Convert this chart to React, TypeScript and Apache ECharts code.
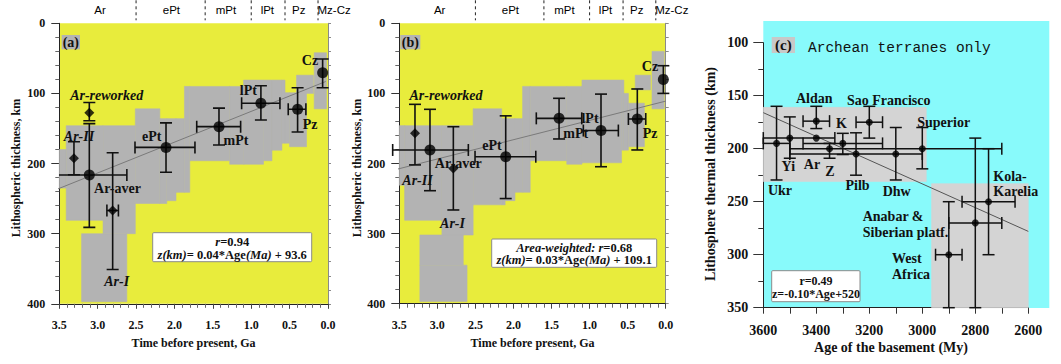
import { useEffect, useRef } from 'react';
import * as echarts from 'echarts';

const SERIF = '"Liberation Serif", "Times New Roman", serif';
const SANS = '"Liberation Sans", Arial, sans-serif';
const MONO = '"Liberation Mono", "Courier New", monospace';

// ---------- era band (panels a, b) ----------
const eraBoundaries = [2.5, 1.6, 1.0, 0.56, 0.13];
const eraNames = ['Ar', 'ePt', 'mPt', 'lPt', 'Pz', 'Mz-Cz'];
const eraLabelAge = [2.97, 2.04, 1.33, 0.79, 0.38, -0.08];

// ---------- panel (a) ----------
const aAge = [0.07, 0.874, 0.396, 1.42, 2.11, 3.109, 3.109, 3.309, 2.805];
const aDepth = [70.4, 114, 122.6, 147.4, 177, 216.3, 127.5, 192.6, 267];
const aAgeLo = [null, 1.125, 0.518, 1.71, 2.514, 3.6, null, null, 2.88];
const aAgeHi = [null, 0.626, 0.288, 1.138, 1.733, 2.62, null, null, 2.73];
const aDepthLo = [51, 89, 92, 121, 142, 143, 113, 169, 184.5];
const aDepthHi = [92, 138, 155, 173.5, 212.5, 291, 139, 216, 351];
const aMarker = ['circle', 'circle', 'circle', 'circle', 'circle', 'circle', 'diamond', 'diamond', 'diamond'];
const aRegAge = [3.56, 0.03];
const aRegDepth = [238, 83];
const aZoneFrom = [3.5, 3.41, 2.93, 3.21, 2.51, 2.19, 2.1, 1.98, 1.87, 1.8, 1.28, 1.1, 0.84, 0.73, 0.6, 0.56, 0.5, 0.41, 0.18];
const aZoneTo = [3.41, 2.93, 2.51, 2.62, 2.19, 2.1, 1.98, 1.87, 1.8, 1.28, 1.1, 0.84, 0.73, 0.6, 0.56, 0.5, 0.28, 0.19, 0.02];
const aZoneTop = [180, 146, 146, 300, 122, 136, 136, 136, 90, 90, 90, 81, 81, 81, 81, 99, 99, 74, 42];
const aZoneBottom = [235, 281, 300, 397, 257, 257, 253, 241, 241, 196, 201, 201, 196, 181, 171, 171, 176, 100, 122];

// ---------- panel (b) ----------
const bAge = [0.031, 0.373, 0.85, 1.401, 2.102, 3.097, 3.294, 2.79];
const bDepth = [80, 136.5, 153, 135.6, 190.3, 180.7, 157, 207];
const bAgeLo = [null, 0.49, 1.082, 1.7, 2.505, 3.587, null, null];
const bAgeHi = [null, 0.262, 0.622, 1.103, 1.707, 2.593, null, null];
const bDepthLo = [60.5, 93.7, 101, 107, 132, 122.7, 115.6, 147.5];
const bDepthHi = [100, 180.7, 204.6, 165, 250, 238.8, 202, 266.3];
const bMarker = ['circle', 'circle', 'circle', 'circle', 'circle', 'circle', 'diamond', 'diamond'];
const bRegAge = [3.56, 0.0];
const bRegDepth = [209, 111];
const bZoneFrom = [3.5, 3.43, 2.94, 3.23, 3.23, 2.53, 2.155, 2.11, 1.98, 1.88, 1.78, 1.3, 1.1, 0.58, 0.55, 0.49, 0.4, 0.18];
const bZoneTo = [3.43, 2.94, 2.53, 2.66, 2.61, 2.155, 2.11, 1.98, 1.88, 1.78, 1.3, 1.1, 0.58, 0.55, 0.49, 0.28, 0.2, 0.02];
const bZoneTop = [146, 146, 146, 302, 345, 122, 136, 136, 136, 90, 90, 90, 81, 81, 100, 114, 74, 40];
const bZoneBottom = [231, 281, 302, 345, 397, 259, 259, 253, 241, 241, 196, 201, 199, 181, 181, 176, 95, 122];

// ---------- panel (c) ----------
const cNames = ['Ukr', 'Yi', 'Aldan', 'Ar', 'K', 'Z', 'Pilb', 'Sao Francisco', 'Dhw', 'Superior', 'Kola-Karelia', 'Anabar & Siberian platf.', 'West Africa'];
const cAge = [3550, 3500, 3400, 3400, 3300, 3350, 3250, 3200, 3100, 3000, 2750, 2800, 2900];
const cThick = [195, 190, 174, 190, 195, 200, 205, 175, 205, 200, 250, 270, 300];
const cAgeLo = [3600, 3600, 3450, null, 3450, null, 3500, 3250, null, 3500, 2850, 2900, 2950];
const cAgeHi = [3500, 3330, 3350, null, 3150, null, 3000, 3150, null, 2700, 2650, 2700, 2850];
const cThickLo = [160, 170, 160, null, 185.5, 195, 185, 160, 180, 180, 200, 190, 250];
const cThickHi = [229.5, 209, 181, null, 205.5, 209, 225, 190, 229.5, 219, 300, 350, 350];
const cRegAge = [3600, 2600];
const cRegThick = [166, 278];
const cZoneFrom = [3600, 2965];
const cZoneTo = [2985, 2600];
const cZoneTop = [161, 233];
const cZoneBottom = [231, 350];

const YELLOW = '#E8EC3C';
const GRAY = '#B3B3B3';
const CYAN = '#88FAFB';
const LGRAY = '#D4D4D4';

const nn = (v: number | null) => (v == null ? NaN : v);

function zoneSeries(xi: number, yi: number, from: number[], to: number[], top: number[], bottom: number[], color: string) {
  return {
    type: 'custom', xAxisIndex: xi, yAxisIndex: yi, z: 1, silent: true, clip: false,
    dimensions: ['from', 'to', 'top', 'bottom'],
    encode: { x: [0, 1], y: [2, 3] },
    data: from.map((f, i) => [f, to[i], top[i], bottom[i]]),
    renderItem: (_p: any, api: any) => {
      const p1 = api.coord([api.value(0), api.value(2)]);
      const p2 = api.coord([api.value(1), api.value(3)]);
      return {
        type: 'rect',
        shape: { x: Math.min(p1[0], p2[0]), y: Math.min(p1[1], p2[1]), width: Math.abs(p2[0] - p1[0]), height: Math.abs(p2[1] - p1[1]) },
        style: { fill: color, stroke: color, lineWidth: 0.6 },
      };
    },
  };
}

function errSeries(xi: number, yi: number, x: number[], y: number[], xl: (number | null)[], xh: (number | null)[], yl: (number | null)[], yh: (number | null)[], cap: number, lw: number, clip: boolean) {
  return {
    type: 'custom', xAxisIndex: xi, yAxisIndex: yi, z: 3, silent: true, clip,
    dimensions: ['x', 'y', 'xl', 'xh', 'yl', 'yh'],
    encode: { x: 0, y: 1 },
    data: x.map((v, i) => [v, y[i], nn(xl[i]), nn(xh[i]), nn(yl[i]), nn(yh[i])]),
    renderItem: (_p: any, api: any) => {
      const X = api.value(0), Y = api.value(1);
      const XL = api.value(2), XH = api.value(3), YL = api.value(4), YH = api.value(5);
      const st = { stroke: '#111', lineWidth: lw };
      const ch: any[] = [];
      const seg = (a: number[], b: number[]) => ch.push({ type: 'line', shape: { x1: a[0], y1: a[1], x2: b[0], y2: b[1] }, style: st });
      if (isFinite(YL) && isFinite(YH)) {
        const a = api.coord([X, YL]), b = api.coord([X, YH]);
        seg(a, b);
        seg([a[0] - cap, a[1]], [a[0] + cap, a[1]]);
        seg([b[0] - cap, b[1]], [b[0] + cap, b[1]]);
      }
      if (isFinite(XL) && isFinite(XH)) {
        const a = api.coord([XL, Y]), b = api.coord([XH, Y]);
        seg(a, b);
        seg([a[0], a[1] - cap], [a[0], a[1] + cap]);
        seg([b[0], b[1] - cap], [b[0], b[1] + cap]);
      }
      return { type: 'group', children: ch };
    },
  };
}

function pointSeries(xi: number, yi: number, x: number[], y: number[], marker: string[], kind: string, size: number) {
  return {
    type: 'scatter', xAxisIndex: xi, yAxisIndex: yi, z: 4, silent: true,
    symbol: kind, symbolSize: size, itemStyle: { color: '#000' },
    data: x.map((v, i) => (marker[i] === kind ? [v, y[i]] : null)).filter((d) => d),
  };
}

function regSeries(xi: number, yi: number, x: number[], y: number[], color: string) {
  return {
    type: 'line', xAxisIndex: xi, yAxisIndex: yi, z: 2, silent: true, clip: false,
    symbol: 'none', lineStyle: { color, width: 1 },
    data: x.map((v, i) => [v, y[i]]),
  };
}

function eraSeries(xi: number, yi: number) {
  return [
    {
      type: 'custom', xAxisIndex: xi, yAxisIndex: yi, z: 5, silent: true, clip: false,
      encode: { x: 0, y: 1 },
      data: eraBoundaries.map((t) => [t, 0]),
      renderItem: (_p: any, api: any) => {
        const p = api.coord([api.value(0), 0]);
        return { type: 'line', shape: { x1: p[0], y1: p[1] - 23, x2: p[0], y2: p[1] - 3 }, style: { stroke: '#222', lineWidth: 1, lineDash: [3, 3] } };
      },
    },
    {
      type: 'custom', xAxisIndex: xi, yAxisIndex: yi, z: 5, silent: true, clip: false,
      encode: { x: 0, y: 1 },
      data: eraLabelAge.map((t) => [t, 0]),
      renderItem: (params: any, api: any) => {
        const p = api.coord([api.value(0), 0]);
        return {
          type: 'text', x: p[0], y: p[1] - 13,
          style: { text: eraNames[params.dataIndex], fill: '#000', fontSize: 11.5, fontFamily: SANS, align: 'center', verticalAlign: 'middle' },
        };
      },
    },
  ];
}

function timeXAxis(gi: number) {
  return {
    type: 'value', gridIndex: gi, min: 0, max: 3.5, inverse: true, interval: 0.5,
    axisLine: { show: true, onZero: false, lineStyle: { color: '#222', width: 1 } },
    axisTick: { show: true, length: 5, lineStyle: { color: '#444' } },
    minorTick: { show: true, splitNumber: 5, length: 4, lineStyle: { color: '#666' } },
    splitLine: { show: false },
    axisLabel: { formatter: (v: number) => v.toFixed(1), fontFamily: SERIF, fontWeight: 'bold', fontSize: 12, color: '#111', margin: 15 },
  };
}

function depthYAxes(gi: number) {
  return [
    {
      type: 'value', gridIndex: gi, position: 'left', min: 0, max: 400, inverse: true, interval: 100,
      axisLine: { show: true, onZero: false, lineStyle: { color: '#222', width: 1 } },
      axisTick: { show: true, length: 8, lineStyle: { color: '#333' } },
      minorTick: { show: true, splitNumber: 5, length: 4, lineStyle: { color: '#666' } },
      splitLine: { show: false },
      axisLabel: { fontFamily: SERIF, fontWeight: 'bold', fontSize: 12, color: '#111', margin: 14 },
    },
    {
      type: 'value', gridIndex: gi, position: 'right', min: 0, max: 400, inverse: true, interval: 20,
      axisLine: { show: true, onZero: false, lineStyle: { color: '#8a8a8a', width: 1 } },
      axisTick: { show: true, length: 3, lineStyle: { color: '#8a8a8a' } },
      splitLine: { show: false },
      axisLabel: { show: false },
    },
  ];
}

const txt = (x: number, y: number, text: string, size = 14, extra: any = {}, z = 10) => ({
  type: 'text', x, y, z, silent: true,
  style: { text, fill: '#111', fontSize: size, fontWeight: 'bold', fontFamily: SERIF, align: 'center', verticalAlign: 'middle', ...extra },
});
const itxt = (x: number, y: number, text: string, size = 14) => txt(x, y, text, size, { fontStyle: 'italic' });
const ltxt = (x: number, y: number, text: string, size = 14) => txt(x, y, text, size, { align: 'left' });

const richI = (size: number) => ({ i: { fontStyle: 'italic', fontWeight: 'bold', fontSize: size, fontFamily: SERIF, fill: '#111' } });

function box(x: number, y: number, w: number, h: number, lines: { t: string; y: number }[], cx: number, size: number) {
  return [
    { type: 'rect', z: 20, silent: true, shape: { x, y, width: w, height: h, r: 1 }, style: { fill: '#fff', stroke: '#8a8a8a', lineWidth: 1 } },
    ...lines.map((l) => ({
      type: 'text', z: 21, silent: true, x: cx, y: l.y,
      style: { text: l.t, fill: '#111', fontSize: size, fontWeight: 'bold', fontFamily: SERIF, align: 'center', verticalAlign: 'middle', rich: richI(size) },
    })),
  ];
}

function tagBox(x: number, y: number, w: number, h: number, text: string, color: string, size: number) {
  return [
    { type: 'rect', z: 20, silent: true, shape: { x, y, width: w, height: h }, style: { fill: color } },
    txt(x + w / 2, y + h / 2, text, size, {}, 21),
  ];
}

export default function App() {
  const ref = useRef<HTMLDivElement>(null);
  useEffect(() => {
    if (!ref.current) return;
    const chart = echarts.init(ref.current, undefined, { renderer: 'svg' });
    const graphics: any[] = [
      { type: 'rect', z: 0, silent: true, shape: { x: 763.3, y: 21, width: 286, height: 287 }, style: { fill: CYAN } },
      // panel a texts
      ...tagBox(61.7, 35, 18.3, 14.3, '(a)', GRAY, 14),
      txt(310, 60.7, 'Cz'),
      txt(248.3, 90, 'lPt'),
      txt(310, 124.7, 'Pz'),
      txt(236, 140, 'mPt'),
      txt(151.7, 136.7, 'ePt'),
      itxt(106.7, 95, 'Ar-reworked'),
      itxt(79, 136, 'Ar-II'),
      txt(117.5, 188.7, 'Ar-aver'),
      itxt(116.7, 281.3, 'Ar-I'),
      ...box(152.7, 232.7, 159, 29, [
        { t: '{i|r}=0.94', y: 241.7 },
        { t: '{i|z(km)}= 0.04*Age{i|(Ma)} + 93.6', y: 255.3 },
      ], 232.2, 12.5),
      { ...txt(16, 168, 'Lithospheric thickness, km', 12), rotation: Math.PI / 2 },
      txt(193.6, 342.7, 'Time before present, Ga', 12),
      // panel b texts
      ...tagBox(400.3, 35, 20, 14.3, '(b)', GRAY, 14),
      txt(650, 66.7, 'Cz'),
      txt(590, 118, 'lPt'),
      txt(575.8, 133, 'mPt'),
      txt(650, 133.3, 'Pz'),
      txt(492, 145, 'ePt'),
      itxt(446, 95, 'Ar-reworked'),
      txt(458.3, 163.8, 'Ar-aver'),
      itxt(417.5, 180, 'Ar-II'),
      itxt(452.5, 223.3, 'Ar-I'),
      ...box(491.7, 239, 165, 28.3, [
        { t: '{i|Area-weighted: r}=0.68', y: 247.7 },
        { t: '{i|z(km)}= 0.03*Age{i|(Ma)} + 109.1', y: 259.7 },
      ], 574.2, 12.5),
      { ...txt(357, 168, 'Lithospheric thickness, km', 12), rotation: Math.PI / 2 },
      txt(532.5, 342.7, 'Time before present, Ga', 12),
      // panel c texts
      ...tagBox(771.7, 37, 23.3, 16, '(c)', '#C8C8C8', 15),
      { type: 'text', z: 10, silent: true, x: 808, y: 48, style: { text: 'Archean terranes only', fill: '#111', fontSize: 14.5, fontFamily: MONO, align: 'left', verticalAlign: 'middle' } },
      txt(814.2, 98.8, 'Aldan'),
      txt(888.7, 100.3, 'Sao Francisco'),
      txt(841.5, 123.3, 'K'),
      txt(943.7, 122.3, 'Superior'),
      txt(788.3, 166.7, 'Yi'),
      txt(812, 164.7, 'Ar'),
      txt(830, 171, 'Z'),
      txt(780, 190, 'Ukr'),
      txt(857.5, 185.5, 'Pilb'),
      txt(896.7, 191.7, 'Dhw'),
      ltxt(993.3, 176, 'Kola-'),
      ltxt(993.3, 191.3, 'Karelia'),
      ltxt(862.7, 216.7, 'Anabar &'),
      ltxt(862.7, 232.5, 'Siberian platf.'),
      ltxt(892, 258.8, 'West'),
      ltxt(892, 274.7, 'Africa'),
      ...box(771.7, 270.7, 88.3, 31, [
        { t: 'r=0.49', y: 280.6 },
        { t: 'z=-0.10*Age+520', y: 294.2 },
      ], 816, 12),
      { ...txt(710, 174, 'Lithosphere thermal thickness (km)', 14), rotation: Math.PI / 2 },
      txt(891, 347.7, 'Age of the basement (My)', 14),
    ];

    const option: any = {
      animation: false,
      backgroundColor: '#ffffff',
      grid: [
        { left: 59.3, top: 23.3, width: 268.7, height: 280.5, show: true, backgroundColor: YELLOW, borderWidth: 0, containLabel: false },
        { left: 399.3, top: 23.3, width: 266.4, height: 280.4, show: true, backgroundColor: YELLOW, borderWidth: 0, containLabel: false },
        { left: 763.3, top: 42.7, width: 265, height: 265, show: false, containLabel: false },
      ],
      xAxis: [
        timeXAxis(0),
        timeXAxis(1),
        {
          type: 'value', gridIndex: 2, min: 2600, max: 3600, inverse: true, interval: 200,
          axisLine: { show: true, onZero: false, lineStyle: { color: '#222', width: 1 } },
          axisTick: { show: true, length: 6, lineStyle: { color: '#333' } },
          minorTick: { show: true, splitNumber: 2, length: 6, lineStyle: { color: '#333' } },
          splitLine: { show: false },
          axisLabel: { formatter: (v: number) => String(v), fontFamily: SERIF, fontWeight: 'bold', fontSize: 14, color: '#111', margin: 16 },
        },
      ],
      yAxis: [
        ...depthYAxes(0),
        ...depthYAxes(1),
        {
          type: 'value', gridIndex: 2, position: 'left', min: 100, max: 350, inverse: true, interval: 50,
          axisLine: { show: true, onZero: false, lineStyle: { color: '#222', width: 1 } },
          axisTick: { show: true, length: 10, lineStyle: { color: '#333' } },
          minorTick: { show: true, splitNumber: 2, length: 5, lineStyle: { color: '#333' } },
          splitLine: { show: false },
          axisLabel: { fontFamily: SERIF, fontWeight: 'bold', fontSize: 14, color: '#111', margin: 15 },
        },
      ],
      series: [
        zoneSeries(0, 0, aZoneFrom, aZoneTo, aZoneTop, aZoneBottom, GRAY),
        regSeries(0, 0, aRegAge, aRegDepth, '#7a7a7a'),
        errSeries(0, 0, aAge, aDepth, aAgeLo, aAgeHi, aDepthLo, aDepthHi, 6, 1.6, true),
        pointSeries(0, 0, aAge, aDepth, aMarker, 'circle', 11),
        pointSeries(0, 0, aAge, aDepth, aMarker, 'diamond', 10),
        ...eraSeries(0, 0),

        zoneSeries(1, 2, bZoneFrom, bZoneTo, bZoneTop, bZoneBottom, GRAY),
        regSeries(1, 2, bRegAge, bRegDepth, '#7a7a7a'),
        errSeries(1, 2, bAge, bDepth, bAgeLo, bAgeHi, bDepthLo, bDepthHi, 6, 1.6, false),
        pointSeries(1, 2, bAge, bDepth, bMarker, 'circle', 11),
        pointSeries(1, 2, bAge, bDepth, bMarker, 'diamond', 10),
        ...eraSeries(1, 2),

        zoneSeries(2, 4, cZoneFrom, cZoneTo, cZoneTop, cZoneBottom, LGRAY),
        regSeries(2, 4, cRegAge, cRegThick, '#555'),
        errSeries(2, 4, cAge, cThick, cAgeLo, cAgeHi, cThickLo, cThickHi, 6, 1.5, false),
        pointSeries(2, 4, cAge, cThick, cNames.map(() => 'circle'), 'circle', 7),
      ],
      graphic: { elements: graphics },
    };
    chart.setOption(option);
    return () => chart.dispose();
  }, []);
  return <div ref={ref} style={{ position: 'absolute', left: 0, top: 0, width: 1061, height: 364 }} />;
}
